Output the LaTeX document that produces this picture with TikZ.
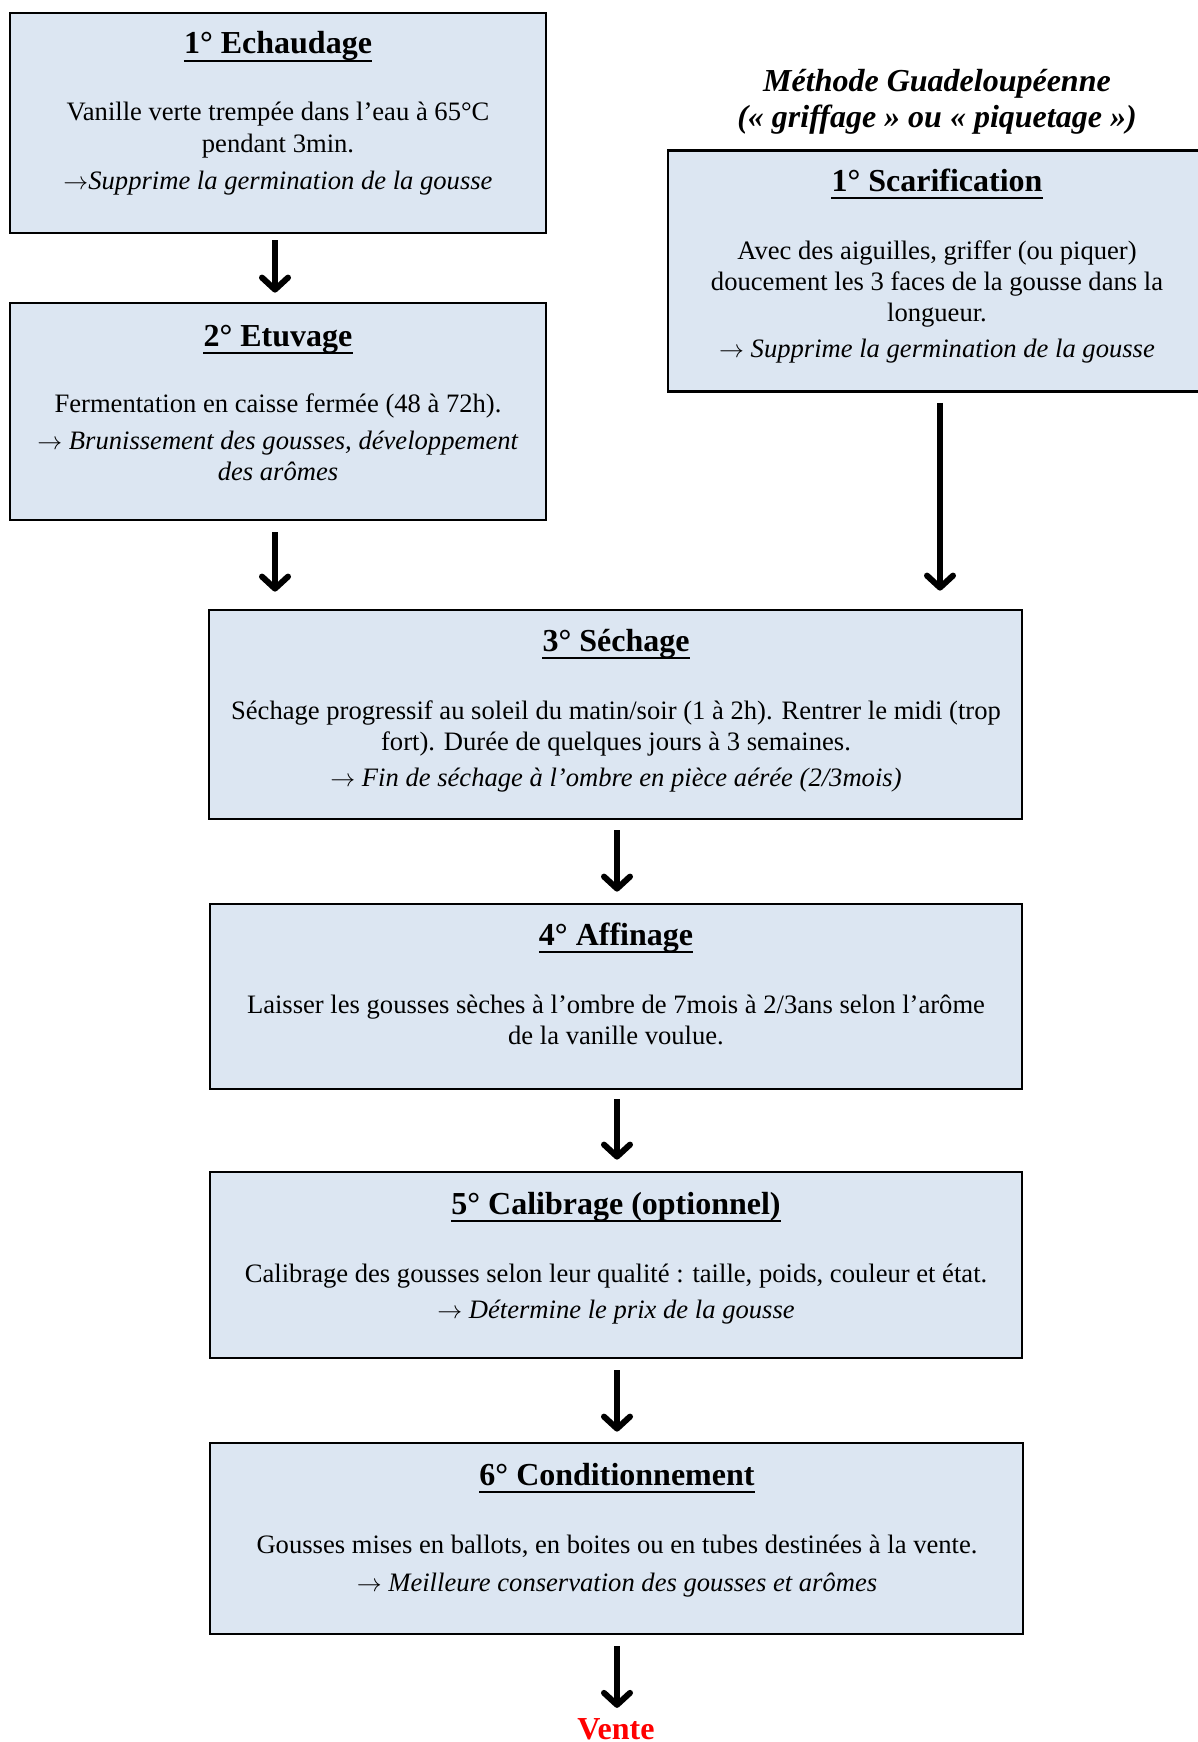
\documentclass[tikz,border=0pt]{standalone}
\usepackage{fontspec}
\setmainfont{Liberation Serif}
\usetikzlibrary{arrows.meta}
\definecolor{boxfill}{RGB}{220,230,242}
\definecolor{venteRed}{RGB}{255,0,0}
\newcommand{\ra}{$\rightarrow$}
\tikzset{
  box/.style={draw=black, line width=2.8pt, fill=boxfill, inner sep=0pt},
  ttl/.style={font=\bfseries\fontsize{32}{38}\selectfont, anchor=base, inner sep=0pt},
  txt/.style={font=\fontsize{26.6}{31}\selectfont, anchor=base, inner sep=0pt},
  uline/.style={line width=2.6pt},
  arr/.style={line width=6pt, -{Straight Barb[length=12pt,width=26pt,round]}}
}
\begin{document}
\begin{tikzpicture}[x=1pt,y=-1pt]
\useasboundingbox (0,0) rectangle (1197,1742);
% boxes
\node[box, minimum width=536pt, minimum height=220pt] (box1) at (278,123) {};
\node[box, minimum width=536pt, minimum height=217pt] (box2) at (278,411.5) {};
\node[box, minimum width=532pt, minimum height=241pt] (scar) at (934,271) {};
\node[box, minimum width=813pt, minimum height=209pt] (box3) at (615.5,714.5) {};
\node[box, minimum width=812pt, minimum height=185pt] (box4) at (616,996.5) {};
\node[box, minimum width=812pt, minimum height=186pt] (box5) at (616,1265) {};
\node[box, minimum width=813pt, minimum height=191pt] (box6) at (616.5,1538.5) {};

% box 1
\node[ttl] (t1) at (278,54) {1° Echaudage};
\draw[uline] ([yshift=-7pt]t1.base west) -- ([yshift=-7pt]t1.base east);
\node[txt] (b1a) at (278,121) {Vanille verte trempée dans l’eau à 65°C};
\node[txt] (b1b) at (278,152) {pendant 3min.};
\node[txt] (b1c) at (278,189) {\ra\textit{Supprime la germination de la gousse}};

% box 2
\node[ttl] (t2) at (278,346) {2° Etuvage};
\draw[uline] ([yshift=-7pt]t2.base west) -- ([yshift=-7pt]t2.base east);
\node[txt] (b2a) at (278,412) {Fermentation en caisse fermée (48 à 72h).};
\node[txt] (b2b) at (278,449) {\ra{} \textit{Brunissement des gousses, développement}};
\node[txt] (b2c) at (278,480) {\textit{des arômes}};

% methode
\node[ttl, font=\bfseries\itshape\fontsize{32}{38}\selectfont] (m1) at (937,92) {Méthode Guadeloupéenne};
\node[ttl, font=\bfseries\itshape\fontsize{32}{38}\selectfont] (m2) at (937,128) {(« griffage » ou « piquetage »)};

% scarification
\node[ttl] (ts) at (937,191) {1° Scarification};
\draw[uline] ([yshift=-7pt]ts.base west) -- ([yshift=-7pt]ts.base east);
\node[txt] (bsa) at (937,259) {Avec des aiguilles, griffer (ou piquer)};
\node[txt] (bsb) at (937,290) {doucement les 3 faces de la gousse dans la};
\node[txt] (bsc) at (937,321) {longueur.};
\node[txt] (bsd) at (937,357) {\ra{} \textit{Supprime la germination de la gousse}};

% box 3
\node[ttl] (t3) at (616,651) {3° Séchage};
\draw[uline] ([yshift=-7pt]t3.base west) -- ([yshift=-7pt]t3.base east);
\node[txt] (b3a) at (616,719) {Séchage progressif au soleil du matin/soir (1 à 2h). Rentrer le midi (trop};
\node[txt] (b3b) at (616,750) {fort). Durée de quelques jours à 3 semaines.};
\node[txt] (b3c) at (616,786) {\ra{} \textit{Fin de séchage à l’ombre en pièce aérée (2/3mois)}};

% box 4
\node[ttl] (t4) at (616,945) {4° Affinage};
\draw[uline] ([yshift=-7pt]t4.base west) -- ([yshift=-7pt]t4.base east);
\node[txt] (b4a) at (616,1013) {Laisser les gousses sèches à l’ombre de 7mois à 2/3ans selon l’arôme};
\node[txt] (b4b) at (616,1044) {de la vanille voulue.};

% box 5
\node[ttl] (t5) at (616,1214) {5° Calibrage (optionnel)};
\draw[uline] ([yshift=-7pt]t5.base west) -- ([yshift=-7pt]t5.base east);
\node[txt] (b5a) at (616,1282) {Calibrage des gousses selon leur qualité : taille, poids, couleur et état.};
\node[txt] (b5b) at (616,1318) {\ra{} \textit{Détermine le prix de la gousse}};

% box 6
\node[ttl] (t6) at (617,1485) {6° Conditionnement};
\draw[uline] ([yshift=-7pt]t6.base west) -- ([yshift=-7pt]t6.base east);
\node[txt] (b6a) at (617,1553) {Gousses mises en ballots, en boites ou en tubes destinées à la vente.};
\node[txt] (b6b) at (617,1591) {\ra{} \textit{Meilleure conservation des gousses et arômes}};

% vente
\node[ttl, text=venteRed] (vente) at (616,1739) {Vente};

% connectors
\draw[arr, shorten <=6pt, shorten >=9pt] ([xshift=-3pt]box1.south) -- ([xshift=-3pt]box2.north);
\draw[arr, shorten <=11pt, shorten >=17pt] ([xshift=-3pt]box2.south) -- ([xshift=-3pt]box2.south |- box3.north);
\draw[arr, shorten <=10pt, shorten >=18pt] ([xshift=6pt]scar.south) -- ([xshift=6pt]scar.south |- box3.north);
\draw[arr, shorten <=10pt, shorten >=11pt] ([xshift=1.5pt]box3.south) -- ([xshift=1.5pt]box3.south |- box4.north);
\draw[arr, shorten <=9pt, shorten >=11pt] ([xshift=1pt]box4.south) -- ([xshift=1pt]box4.south |- box5.north);
\draw[arr, shorten <=11pt, shorten >=10pt] ([xshift=1pt]box5.south) -- ([xshift=1pt]box5.south |- box6.north);
\draw[arr, shorten <=11pt, shorten >=10pt] ([xshift=0.5pt]box6.south) -- ([xshift=0.5pt]box6.south |- vente.north);
\end{tikzpicture}
\end{document}
